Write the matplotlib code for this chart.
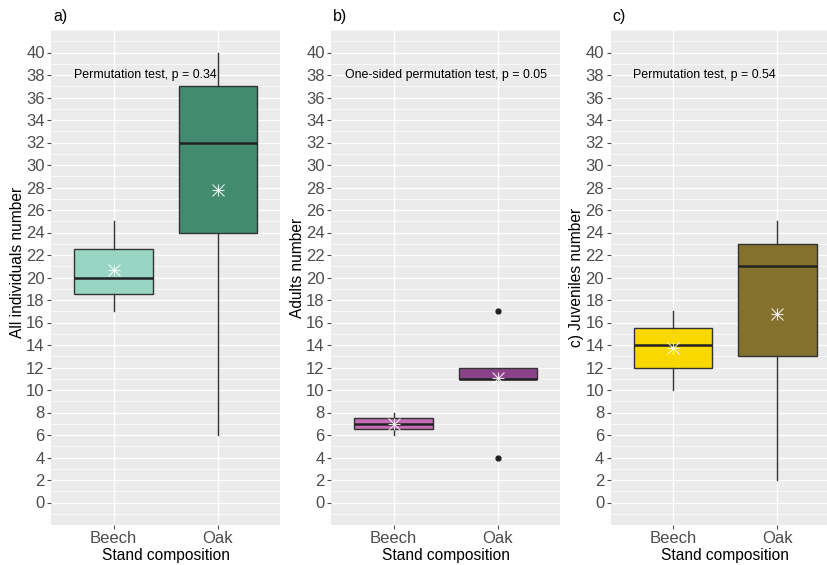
import matplotlib
matplotlib.use("Agg")
import matplotlib.pyplot as plt
from matplotlib.ticker import MultipleLocator

plt.rcParams['font.family'] = ['Liberation Sans', 'DejaVu Sans']

categories = ["Beech", "Oak"]

# Panel a: All individuals
a_whislo = [17, 6]
a_q1 = [18.5, 24]
a_med = [20, 32]
a_q3 = [22.5, 37]
a_whishi = [25, 40]
a_mean = [20.7, 27.8]
a_fliers = [[], []]

# Panel b: Adults
b_whislo = [6, 11]
b_q1 = [6.5, 11]
b_med = [7, 11]
b_q3 = [7.5, 12]
b_whishi = [8, 12]
b_mean = [7.0, 11.1]
b_fliers = [[], [17, 4]]

# Panel c: Juveniles
c_whislo = [10, 2]
c_q1 = [12, 13]
c_med = [14, 21]
c_q3 = [15.5, 23]
c_whishi = [17, 25]
c_mean = [13.7, 16.8]
c_fliers = [[], []]

yticks = list(range(0, 41, 2))

panels = [
    dict(label="a)", ylabel="All individuals number", ylab_y=0.53,
         note="Permutation test, p = 0.34", note_x=1.3,
         colors=["#98d5c3", "#438b70"],
         stats=(a_whislo, a_q1, a_med, a_q3, a_whishi, a_mean, a_fliers)),
    dict(label="b)", ylabel="Adults number", ylab_y=0.52,
         note="One-sided permutation test, p = 0.05", note_x=1.5,
         colors=["#c36db5", "#8a4288"],
         stats=(b_whislo, b_q1, b_med, b_q3, b_whishi, b_mean, b_fliers)),
    dict(label="c)", ylabel="c) Juveniles number", ylab_y=0.5,
         note="Permutation test, p = 0.54", note_x=1.3,
         colors=["#f9d800", "#85712e"],
         stats=(c_whislo, c_q1, c_med, c_q3, c_whishi, c_mean, c_fliers)),
]

W, H = 828, 565
fig = plt.figure(figsize=(W / 100, H / 100), dpi=100)

lefts = [51, 331, 610.5]
pw = 229.5
top, bottom = 30, 525

for p, left in zip(panels, lefts):
    ax = fig.add_axes([left / W, 1 - bottom / H, pw / W, (bottom - top) / H])
    ax.set_facecolor("#ebebeb")
    for s in ax.spines.values():
        s.set_visible(False)

    wl, q1, md, q3, wh, mn, fl = p["stats"]
    stats = []
    for i in range(2):
        stats.append(dict(whislo=wl[i], q1=q1[i], med=md[i], q3=q3[i],
                          whishi=wh[i], mean=mn[i], fliers=fl[i]))
    bp = ax.bxp(stats, positions=[1, 2], widths=0.75, patch_artist=True,
                showmeans=False, showcaps=False,
                boxprops=dict(edgecolor='#333333', linewidth=1.0),
                medianprops=dict(color='#222222', linewidth=1.8),
                whiskerprops=dict(color='#333333', linewidth=1.0),
                flierprops=dict(marker='o', markersize=3.5,
                                markerfacecolor='#222222',
                                markeredgecolor='#222222'))
    for patch, c in zip(bp['boxes'], p["colors"]):
        patch.set_facecolor(c)
    for i in range(2):
        for m in ['+', 'x']:
            ax.plot(i + 1, mn[i], marker=m, color='white', markersize=8,
                    mew=0.8, alpha=0.85, zorder=5)

    ax.set_xlim(0.4, 2.6)
    ax.set_ylim(-2, 42)
    ax.set_xticks([1, 2])
    ax.set_xticklabels(categories)
    ax.yaxis.set_major_locator(MultipleLocator(2))
    ax.yaxis.set_minor_locator(MultipleLocator(1))
    ax.set_yticks(yticks)
    ax.set_yticklabels([str(t) for t in yticks])
    ax.grid(True, which='major', color='white', lw=1.0, zorder=0)
    ax.grid(True, which='minor', axis='y', color='white', lw=0.5, zorder=0)
    ax.tick_params(which='minor', length=0)
    ax.tick_params(which='major', length=3, width=0.8, color='#4d4d4d',
                   labelsize=12, labelcolor='#4d4d4d', pad=1.5)
    ax.set_axisbelow(True)

    ax.text(p["note_x"], 38, p["note"], ha='center', va='center',
            fontsize=8.9, color='black')
    ax.set_ylabel(p["ylabel"], fontsize=11.2, color='black', labelpad=3)
    ax.yaxis.set_label_coords(-0.115, p["ylab_y"])
    ax.set_xlabel("Stand composition", fontsize=11.2, color='black', labelpad=1)
    fig.text((left + 2) / W, 1 - 16 / H, p["label"], fontsize=11.5,
             ha='left', va='center')

fig.savefig("out.png", dpi=100)
